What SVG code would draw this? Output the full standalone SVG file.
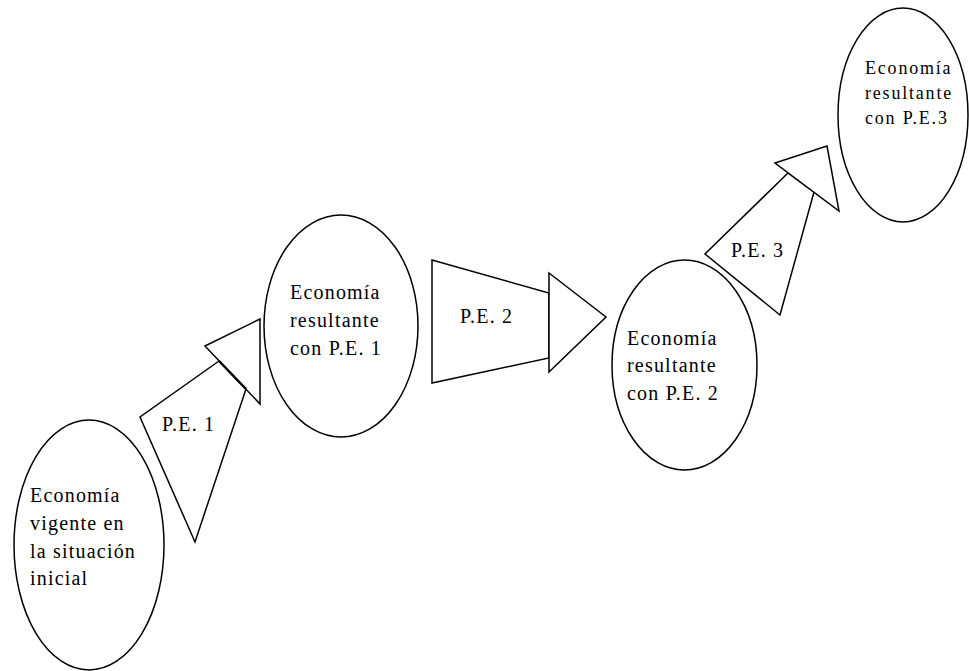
<svg xmlns="http://www.w3.org/2000/svg" width="969" height="671" viewBox="0 0 969 671">
<style>
.shape{fill:#fff;stroke:#000;stroke-width:1.5;stroke-linejoin:miter}
text{fill:#000;font-family:'Liberation Serif','Times New Roman',serif}
.t{font-size:20px;letter-spacing:1.2px}
.ts{font-size:18px;letter-spacing:1.8px}
</style>
<rect width="969" height="671" fill="#fff"/>
<g id="connectors">
  <g id="pe1">
    <polygon class="shape" points="219,361 140,417 195,542 246,389"/>
    <polygon class="shape" points="205,346 260,319 260,404"/>
    <line x1="219" y1="361" x2="246" y2="389" stroke="#000" stroke-width="2.5"/>
    <text class="t" x="162" y="431">P.E. 1</text>
  </g>
  <g id="pe2">
    <polygon class="shape" points="432,260 549,293 549,358 432,383"/>
    <polygon class="shape" points="549,273 606,317 549,372"/>
    <text class="t" x="460" y="323">P.E. 2</text>
  </g>
  <g id="pe3">
    <polygon class="shape" points="788,173 705,254 780,315 814,192"/>
    <polygon class="shape" points="775,163 827,146 839,211"/>
    <text class="t" x="731" y="257">P.E. 3</text>
  </g>
</g>
<g id="node1">
  <ellipse class="shape" cx="89" cy="545" rx="75" ry="125"/>
  <text class="t" x="30" y="502">Economía</text>
  <text class="t" x="30" y="530">vigente en</text>
  <text class="t" x="30" y="558">la situación</text>
  <text class="t" x="30" y="585">inicial</text>
</g>
<g id="node2">
  <ellipse class="shape" cx="341" cy="326" rx="77" ry="111"/>
  <text class="t" x="290" y="299">Economía</text>
  <text class="t" x="290" y="327">resultante</text>
  <text class="t" x="290" y="355">con P.E. 1</text>
</g>
<g id="node3">
  <ellipse class="shape" cx="684.5" cy="365" rx="72.5" ry="105"/>
  <text class="t" x="627" y="345">Economía</text>
  <text class="t" x="627" y="372">resultante</text>
  <text class="t" x="627" y="400">con P.E. 2</text>
</g>
<g id="node4">
  <ellipse class="shape" cx="903" cy="115" rx="65" ry="107"/>
  <text class="ts" x="865" y="74">Economía</text>
  <text class="ts" x="865" y="99">resultante</text>
  <text class="ts" x="865" y="124">con P.E.3</text>
</g>
</svg>
